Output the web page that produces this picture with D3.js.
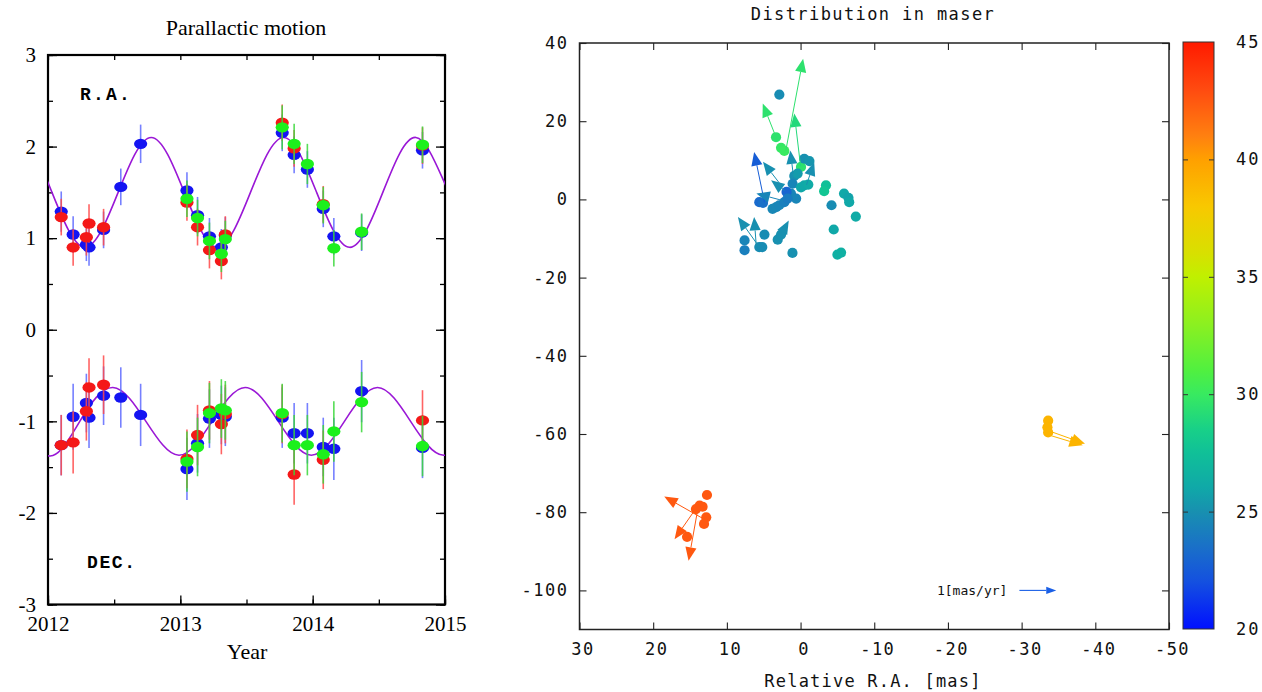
<!DOCTYPE html>
<html>
<head>
<meta charset="utf-8">
<script src="https://cdn.jsdelivr.net/npm/d3@7"></script>
<style>
  body { margin: 0; background: #fff; }
  svg { display: block; }
</style>
</head>
<body>
<svg id="chart" width="1262" height="692"></svg>
<script>
// ---------------- Parallactic motion (offsets in mas vs. epoch) ----------------
const epochsBlue = [2012.10, 2012.19, 2012.29, 2012.31, 2012.42, 2012.55, 2012.70, 2013.05, 2013.13, 2013.22,
                    2013.31, 2013.34, 2013.77, 2013.86, 2013.96, 2014.08, 2014.16, 2014.37, 2014.83];
const raBlue     = [1.29, 1.04, 0.93, 0.90, 1.09, 1.56, 2.03, 1.52, 1.25, 1.02,
                    0.90, 1.03, 2.15, 1.91, 1.75, 1.32, 1.02, 1.06, 1.96];
const raBlueErr  = [0.22, 0.20, 0.18, 0.20, 0.20, 0.20, 0.21, 0.20, 0.20, 0.20,
                    0.20, 0.20, 0.20, 0.20, 0.20, 0.20, 0.20, 0.20, 0.20];
const decBlue    = [-1.26, -0.95, -0.80, -0.96, -0.72, -0.74, -0.93, -1.52, -1.24, -0.97,
                    -0.93, -0.95, -0.96, -1.13, -1.13, -1.28, -1.30, -0.67, -1.29];
const decBlueErr = [0.33, 0.36, 0.32, 0.33, 0.32, 0.33, 0.34, 0.34, 0.32, 0.32,
                    0.32, 0.32, 0.33, 0.33, 0.33, 0.32, 0.34, 0.34, 0.33];

const epochsRed  = [2012.10, 2012.19, 2012.29, 2012.31, 2012.42, 2013.05, 2013.13, 2013.22, 2013.31, 2013.34,
                    2013.77, 2013.86, 2014.08, 2014.83];
const raRed      = [1.23, 0.90, 1.01, 1.16, 1.12, 1.39, 1.12, 0.87, 0.75, 1.04, 2.26, 1.98, 1.37, 2.01];
const raRedErr   = [0.20, 0.20, 0.20, 0.21, 0.20, 0.20, 0.20, 0.20, 0.20, 0.20, 0.20, 0.20, 0.20, 0.20];
const decRed     = [-1.26, -1.23, -0.89, -0.63, -0.60, -1.41, -1.15, -0.88, -1.03, -0.92, -0.92, -1.58, -1.42, -0.99];
const decRedErr  = [0.33, 0.34, 0.32, 0.32, 0.32, 0.32, 0.33, 0.32, 0.33, 0.32, 0.32, 0.33, 0.32, 0.33];

const epochsGreen = [2013.05, 2013.13, 2013.22, 2013.31, 2013.34, 2013.77, 2013.86, 2013.96, 2014.08, 2014.16,
                     2014.37, 2014.83];
const raGreen     = [1.43, 1.22, 0.97, 0.83, 0.99, 2.21, 2.03, 1.81, 1.36, 0.89, 1.07, 2.02];
const raGreenErr  = [0.20, 0.20, 0.20, 0.20, 0.20, 0.24, 0.22, 0.22, 0.20, 0.20, 0.20, 0.20];
const decGreen    = [-1.44, -1.28, -0.91, -0.86, -0.88, -0.91, -1.26, -1.26, -1.36, -1.11, -0.79, -1.27];
const decGreenErr = [0.33, 0.32, 0.33, 0.32, 0.32, 0.32, 0.33, 0.33, 0.32, 0.33, 0.33, 0.33];

// best-fit parallax curves: knots at quarter-period spacing
const raCurveT  = [2011.53, 2011.78, 2012.03, 2012.28, 2012.53, 2012.78, 2013.03, 2013.28, 2013.53, 2013.78,
                   2014.03, 2014.28, 2014.53, 2014.78, 2015.03, 2015.28];
const raCurveV  = [1.50, 2.10, 1.50, 0.90, 1.50, 2.10, 1.50, 0.90, 1.50, 2.10,
                   1.50, 0.90, 1.50, 2.10, 1.50, 0.90];
const decCurveT = [2011.74, 2011.99, 2012.24, 2012.49, 2012.74, 2012.99, 2013.24, 2013.49, 2013.74, 2013.99,
                   2014.24, 2014.49, 2014.74, 2014.99, 2015.24];
const decCurveV = [-0.63, -1.37, -1.00, -0.63, -1.00, -1.37, -1.00, -0.63, -1.00, -1.37,
                   -1.00, -0.63, -1.00, -1.37, -1.00];

const yearTicks = [2012, 2013, 2014, 2015];
const offsetTicks = [-3, -2, -1, 0, 1, 2, 3];

// ---------------- Maser spot distribution ----------------
const spotRA   = [2.88, 3.33, 2.65, 2.2, -0.06, -0.5, -1.2, 0.85, 0.4, 1.08,
                  1.3, 1.9, -0.06, -0.5, -1.05, -3.45, -3.2, -5.9, -6.5, -6.6,
                  -7.5, -4.2, -4.5, -5.0, -5.5, 0.6, 1.1, 5.6, 5.1, 3.8,
                  3.3, 2.9, 2.2, 1.76, 7.6, 7.6, 5.6, 5.2, 4.9, 3.1,
                  2.65,
                  12.7, 13.7, 13.3, 14.2, 12.8, 13.1, 15.4,
                  -33.6, -33.5, -33.6];
const spotDec  = [26.8, 15.9, 13.2, 12.4, 8.3, 10.4, 9.8, 6.0, 6.6, 4.0,
                  1.5, 1.9, 3.1, 3.6, 3.8, 3.6, 2.1, 1.5, 0.4, -0.7,
                  -4.4, -1.5, -7.7, -14.1, -13.6, 0.2, -13.7, -0.7, -0.9, -2.4,
                  -2.0, -1.5, -0.7, 0.2, -10.5, -13.0, -12.2, -12.2, -9.0, -10.3,
                  -9.0,
                  -75.6, -78.3, -78.6, -79.2, -81.3, -83.0, -86.3,
                  -56.6, -58.3, -59.6];
const spotVlsr = [24.8, 29.5, 29.8, 30.0, 29.5, 25.0, 25.2, 25.0, 25.5, 24.5,
                  24.5, 23.0, 26.0, 26.0, 26.2, 27.5, 27.8, 26.0, 25.8, 26.0,
                  26.2, 24.8, 26.0, 26.5, 26.5, 24.5, 25.0, 23.2, 23.5, 24.6,
                  24.6, 24.5, 24.2, 24.0, 24.5, 24.2, 24.8, 24.8, 24.8, 25.0,
                  25.0,
                  42.5, 42.5, 42.5, 42.5, 42.5, 42.5, 42.5,
                  39.0, 39.0, 39.0];

// proper motions (mas/yr) attached to spots
const pmRA   = [2.0, 3.33, 0.0, 4.9, 2.8, 2.2, 2.4, -0.8, 1.0, 5.6, 6.0, 2.65, 12.7, 14.4, 14.0, -33.7, -33.6];
const pmDec  = [12.5, 15.9, 8.5, -0.7, 4.0, 2.3, -0.3, 3.7, 6.5, -12.2, -12.2, -9.0, -82.2, -79.6, -79.8, -59.2, -60.2];
const pmX    = [-0.47, 0.36, 0.17, 0.28, 0.46, 0.36, 0.72, -0.21, 0.08, 0.58, 0.06, -0.21, 1.16, 0.54, 0.24, -0.98, -0.94];
const pmY    = [4.70, 1.72, 2.70, 2.56, 1.12, 0.52, 0.36, 1.16, 1.20, 1.54, 1.54, 0.72, 1.24, -1.46, -2.52, -0.66, -0.54];
const pmVlsr = [29.5, 29.5, 29.0, 22.6, 25.0, 25.0, 24.5, 25.0, 25.0, 25.0, 25.0, 25.0, 42.5, 42.5, 42.5, 39.0, 39.0];

const masPerPm = 5;           // arrow length in mas for 1 mas/yr
const keyPm = 1;              // reference arrow: 1 mas/yr
const keyPos = [-29.7, -100]; // reference arrow start (RA, Dec)

const raTicks  = [30, 20, 10, 0, -10, -20, -30, -40, -50];
const decTicks = [40, 20, 0, -20, -40, -60, -80, -100];
const cbarTicks = [20, 25, 30, 35, 40, 45];
const cbarStopV = [20, 22, 23.5, 25, 26, 27.5, 28.5, 30, 31, 33, 35, 36, 38, 40, 41, 43, 45];
const cbarStopC = ["#0010ff", "#1450e0", "#1a70c8", "#1890b0", "#10a8a8", "#10c098", "#18d088", "#38ea60",
                   "#50f040", "#8cf020", "#c0f000", "#d8e000", "#f8c800", "#ffa000", "#ff8010", "#ff4a10", "#ff1a00"];

// ============================================================================
const svg = d3.select("#chart");
const serif = "'Liberation Serif', 'Times New Roman', serif";
const mono = "'DejaVu Sans Mono', 'Liberation Mono', monospace";

// ---------- left panel ----------
const xL = d3.scaleLinear().domain([2012, 2015]).range([48, 445]);
const yL = d3.scaleLinear().domain([-3, 3]).range([604.5, 55]);
const left = svg.append("g");

left.append("defs").append("clipPath").attr("id", "clipL")
  .append("rect").attr("x", 48).attr("y", 55).attr("width", 397).attr("height", 549.5);

function styleAxis(g, size, family) {
  g.select(".domain").remove();
  g.selectAll(".tick line").attr("stroke", "#000").attr("stroke-width", 1.3);
  g.selectAll(".tick text").attr("fill", "#000").style("font-family", family).style("font-size", size + "px");
}
const halfYears = d3.range(2012, 2015.01, 0.5);
const halfOffsets = d3.range(-3, 3.01, 0.5);

// major + minor ticks on all four sides, pointing inward
left.append("g").attr("transform", "translate(0,604.5)")
  .call(d3.axisBottom(xL).tickValues(halfYears).tickSizeInner(-5).tickSizeOuter(0).tickFormat(""))
  .call(g => styleAxis(g, 20, serif));
left.append("g").attr("transform", "translate(0,604.5)")
  .call(d3.axisBottom(xL).tickValues(yearTicks).tickSizeInner(-9).tickSizeOuter(0).tickPadding(12).tickFormat(d3.format("d")))
  .call(g => styleAxis(g, 21, serif));
left.append("g").attr("transform", "translate(0,55)")
  .call(d3.axisTop(xL).tickValues(halfYears).tickSizeInner(-5).tickSizeOuter(0).tickFormat(""))
  .call(g => styleAxis(g, 20, serif));
left.append("g").attr("transform", "translate(48,0)")
  .call(d3.axisLeft(yL).tickValues(halfOffsets).tickSizeInner(-5).tickSizeOuter(0).tickFormat(""))
  .call(g => styleAxis(g, 20, serif));
left.append("g").attr("transform", "translate(48,0)")
  .call(d3.axisLeft(yL).tickValues(offsetTicks).tickSizeInner(-9).tickSizeOuter(0).tickPadding(12).tickFormat(d => String(d)))
  .call(g => styleAxis(g, 21, serif));
left.append("g").attr("transform", "translate(445,0)")
  .call(d3.axisRight(yL).tickValues(halfOffsets).tickSizeInner(-5).tickSizeOuter(0).tickFormat(""))
  .call(g => styleAxis(g, 20, serif));
left.append("g").attr("transform", "translate(445,0)")
  .call(d3.axisRight(yL).tickValues(offsetTicks).tickSizeInner(-9).tickSizeOuter(0).tickFormat(""))
  .call(g => styleAxis(g, 20, serif));

left.append("rect").attr("x", 48).attr("y", 55).attr("width", 397).attr("height", 549.5)
  .attr("fill", "none").attr("stroke", "#000").attr("stroke-width", 2.2);

// fitted curves
const curveLine = d3.line().x(d => xL(d[0])).y(d => yL(d[1])).curve(d3.curveNatural);
const curves = left.append("g").attr("clip-path", "url(#clipL)");
curves.append("path").attr("d", curveLine(raCurveT.map((t, i) => [t, raCurveV[i]])))
  .attr("fill", "none").attr("stroke", "#9a18d6").attr("stroke-width", 1.6);
curves.append("path").attr("d", curveLine(decCurveT.map((t, i) => [t, decCurveV[i]])))
  .attr("fill", "none").attr("stroke", "#9a18d6").attr("stroke-width", 1.6);

// measured offsets with error bars
const series = [
  { t: epochsBlue, ra: raBlue, raE: raBlueErr, dec: decBlue, decE: decBlueErr, fill: "#1414f2", bar: "#5f6bff" },
  { t: epochsRed, ra: raRed, raE: raRedErr, dec: decRed, decE: decRedErr, fill: "#f41818", bar: "#ff4a4a" },
  { t: epochsGreen, ra: raGreen, raE: raGreenErr, dec: decGreen, decE: decGreenErr, fill: "#1cf01c", bar: "#3ad83a" }
];
const pts = left.append("g");
series.forEach(s => {
  const g = pts.append("g");
  ["ra", "dec"].forEach(key => {
    const vals = s[key], errs = s[key + "E"];
    s.t.forEach((t, i) => {
      g.append("line").attr("x1", xL(t)).attr("x2", xL(t))
        .attr("y1", yL(vals[i] - errs[i])).attr("y2", yL(vals[i] + errs[i]))
        .attr("stroke", s.bar).attr("stroke-width", 1.6).attr("opacity", 0.85);
    });
    s.t.forEach((t, i) => {
      g.append("ellipse").attr("cx", xL(t)).attr("cy", yL(vals[i]))
        .attr("rx", 6.6).attr("ry", 5.2).attr("fill", s.fill);
    });
  });
});

left.append("text").attr("x", 246).attr("y", 35).attr("text-anchor", "middle")
  .style("font-family", serif).style("font-size", "22px").text("Parallactic motion");
left.append("text").attr("x", 247).attr("y", 659).attr("text-anchor", "middle")
  .style("font-family", serif).style("font-size", "22px").text("Year");
left.append("text").attr("x", 80).attr("y", 100)
  .style("font-family", "'Liberation Mono', monospace").style("font-weight", "bold")
  .style("font-size", "18px").style("letter-spacing", "2.2px").text("R.A.");
left.append("text").attr("x", 87).attr("y", 568)
  .style("font-family", "'Liberation Mono', monospace").style("font-weight", "bold")
  .style("font-size", "18px").style("letter-spacing", "1.6px").text("DEC.");

// ---------- right panel ----------
const xR = d3.scaleLinear().domain([30, -50]).range([579.5, 1169]);
const yR = d3.scaleLinear().domain([-110, 40]).range([629.5, 43]);
const color = d3.scaleLinear().domain(cbarStopV).range(cbarStopC).interpolate(d3.interpolateRgb).clamp(true);
const right = svg.append("g");

function styleMono(g, size) {
  g.select(".domain").remove();
  g.selectAll(".tick line").attr("stroke", "#222").attr("stroke-width", 1.1);
  g.selectAll(".tick text").attr("fill", "#111").style("font-family", mono)
    .style("font-size", size + "px").style("letter-spacing", "1.5px");
}
right.append("g").attr("transform", "translate(0,629.5)")
  .call(d3.axisBottom(xR).tickValues(raTicks).tickSizeInner(-7).tickSizeOuter(0).tickPadding(13).tickFormat(d => String(d)))
  .call(g => styleMono(g, 17))
  .call(g => g.selectAll(".tick text").attr("dx", "3"));
right.append("g").attr("transform", "translate(0,43)")
  .call(d3.axisTop(xR).tickValues(raTicks).tickSizeInner(-7).tickSizeOuter(0).tickFormat(""))
  .call(g => styleMono(g, 17));
right.append("g").attr("transform", "translate(579.5,0)")
  .call(d3.axisLeft(yR).tickValues(decTicks).tickSizeInner(-7).tickSizeOuter(0).tickPadding(11).tickFormat(d => String(d)))
  .call(g => styleMono(g, 17));
right.append("g").attr("transform", "translate(1169,0)")
  .call(d3.axisRight(yR).tickValues(decTicks).tickSizeInner(-7).tickSizeOuter(0).tickFormat(""))
  .call(g => styleMono(g, 17));
right.append("rect").attr("x", 579.5).attr("y", 43).attr("width", 589.5).attr("height", 586.5)
  .attr("fill", "none").attr("stroke", "#222").attr("stroke-width", 1.5);

// spots
right.append("g").selectAll("circle").data(spotRA).join("circle")
  .attr("cx", d => xR(d)).attr("cy", (d, i) => yR(spotDec[i]))
  .attr("r", 5.1).attr("fill", (d, i) => color(spotVlsr[i]));

// proper-motion arrows
function arrow(g, x0, y0, x1, y1, col, L, W, width) {
  const dx = x1 - x0, dy = y1 - y0, len = Math.hypot(dx, dy);
  const ux = dx / len, uy = dy / len;
  const bx = x1 - ux * L, by = y1 - uy * L;
  g.append("line").attr("x1", x0).attr("y1", y0).attr("x2", bx).attr("y2", by)
    .attr("stroke", col).attr("stroke-width", width);
  g.append("path").attr("d", `M${x1},${y1}L${bx - uy * W},${by + ux * W}L${bx + uy * W},${by - ux * W}Z`)
    .attr("fill", col);
}
const arrows = right.append("g");
pmRA.forEach((ra, i) => {
  const x0 = xR(ra), y0 = yR(pmDec[i]);
  const x1 = xR(ra + pmX[i] * masPerPm), y1 = yR(pmDec[i] + pmY[i] * masPerPm);
  arrow(arrows, x0, y0, x1, y1, color(pmVlsr[i]), 13.5, 5.6, 1.0);
});

// reference arrow
arrow(right.append("g"), xR(keyPos[0]), yR(keyPos[1]), xR(keyPos[0] - keyPm * masPerPm), yR(keyPos[1]),
  "#1a5fe6", 10, 3.6, 1.1);
right.append("text").attr("x", xR(keyPos[0]) - 12).attr("y", yR(keyPos[1]) + 5).attr("text-anchor", "end")
  .style("font-family", mono).style("font-size", "13px").attr("fill", "#111").text("1[mas/yr]");

right.append("text").attr("x", 873).attr("y", 20).attr("text-anchor", "middle")
  .style("font-family", mono).style("font-size", "17px").style("letter-spacing", "1.4px").attr("fill", "#111")
  .text("Distribution in maser");
right.append("text").attr("x", 873).attr("y", 687).attr("text-anchor", "middle")
  .style("font-family", mono).style("font-size", "17px").style("letter-spacing", "1.2px").attr("fill", "#111")
  .text("Relative R.A. [mas]");

// ---------- colour bar ----------
const yC = d3.scaleLinear().domain([20, 45]).range([629, 42]);
const grad = svg.append("defs").append("linearGradient").attr("id", "cbar")
  .attr("x1", 0).attr("y1", 1).attr("x2", 0).attr("y2", 0);
cbarStopV.forEach((v, i) => {
  grad.append("stop").attr("offset", (v - 20) / 25).attr("stop-color", cbarStopC[i]);
});
const cb = svg.append("g");
cb.append("rect").attr("x", 1183).attr("y", 42).attr("width", 31).attr("height", 587)
  .attr("fill", "url(#cbar)").attr("stroke", "#333").attr("stroke-width", 1);
cb.append("g").attr("transform", "translate(1183,0)")
  .call(d3.axisLeft(yC).tickValues([25, 30, 35, 40]).tickSizeInner(-5).tickSizeOuter(0).tickFormat(""))
  .call(g => { g.select(".domain").remove(); g.selectAll(".tick line").attr("stroke", "#333"); });
cb.append("g").attr("transform", "translate(1214,0)")
  .call(d3.axisRight(yC).tickValues([25, 30, 35, 40]).tickSizeInner(-5).tickSizeOuter(0).tickFormat(""))
  .call(g => { g.select(".domain").remove(); g.selectAll(".tick line").attr("stroke", "#333"); });
cb.append("g").attr("transform", "translate(1214,0)")
  .call(d3.axisRight(yC).tickValues(cbarTicks).tickSize(0).tickPadding(22).tickFormat(d => String(d)))
  .call(g => {
    g.select(".domain").remove();
    g.selectAll(".tick text").attr("fill", "#111").style("font-family", mono)
      .style("font-size", "17px").style("letter-spacing", "2px");
  });
</script>
</body>
</html>
